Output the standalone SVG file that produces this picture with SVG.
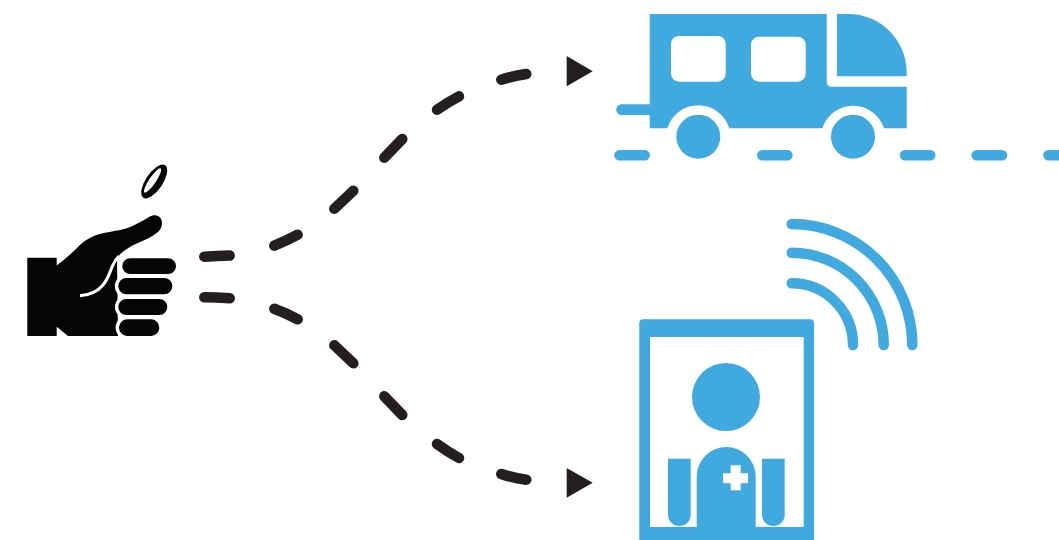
<svg xmlns="http://www.w3.org/2000/svg" width="1059" height="540" viewBox="0 0 1059 540">
<style>
.b{fill:#3fa9e0}
.w{fill:#fff}
.k{fill:#040606}
.f{fill:#040606;stroke:#fff;stroke-width:3.4}
.road{fill:none;stroke:#3fa9e0;stroke-width:10.5;stroke-linecap:round}
.wifi{fill:none;stroke:#3fa9e0;stroke-width:10.5;stroke-linecap:round}
.d{fill:none;stroke:#231f20;stroke-width:10.5;stroke-linecap:round}
.t{fill:#231f20}
</style>
<rect width="1059" height="540" fill="#fff"/>
<g id="hand">
<path class="k" d="M27.3 257.7H56.7V265.5C64 260 72 253 78 247C84 241 90 237 98 234.5C106 232 118 231 126 228.5C134 226 142 221 149 217C153 214.5 158 214.5 160.5 218C163 222 162.500 228 158 232C152 237 146 239.500 139 242.500C131 246 122 251 117 258L118 336H68L56.700 326.700V336H27.300Z"/>
<path d="M80 295.700C90 295 98 291 103 285C108 279 110 272 112 267C114 262 116 259 119 256" fill="none" stroke="#fff" stroke-width="3"/>
<rect class="f" x="120.600" y="256.600" width="57.100" height="19.100" rx="9.500"/>
<rect class="f" x="116.600" y="276.300" width="57.400" height="19.700" rx="9.800"/>
<rect class="f" x="116.600" y="297.300" width="52.400" height="19.400" rx="9.700"/>
<rect class="f" x="117.300" y="317.600" width="43.700" height="20.100" rx="10"/>
<ellipse class="k" cx="154.200" cy="181.500" rx="19.500" ry="8.500" transform="rotate(-56 154.200 181.500)"/>
<ellipse class="w" cx="152.600" cy="180.500" rx="14.500" ry="3.400" transform="rotate(-56 152.600 180.500)"/>
</g>
<g id="connectors">
<path class="d" d="M204.300 256.700Q217 256 229.700 255.600"/>
<path class="d" d="M274.300 245.700Q286 241 297.700 234.700"/>
<path class="d" d="M334.300 208.700L353.300 190.700"/>
<path class="d" d="M384.300 157.700L402.300 139"/>
<path class="d" d="M437 109.700Q448 102 459 96.300"/>
<path class="d" d="M501.300 79.700Q513 76 526.300 74"/>
<polygon class="t" points="566.700,56 592.700,71.300 566.700,86.300"/>
<path class="d" d="M204.300 297.300Q217 297.400 229.700 298.300"/>
<path class="d" d="M274.300 308.700Q286 313 297.700 319.300"/>
<path class="d" d="M334.300 345.300L353.300 363.300"/>
<path class="d" d="M384.300 396.300L402.300 415"/>
<path class="d" d="M437 444Q448 452 459 458"/>
<path class="d" d="M501.300 474Q513 478 526.300 479.700"/>
<polygon class="t" points="566.700,468 592.700,482.700 566.700,497.700"/>
</g>
<g id="bus">
<path class="b" d="M649.700 14H826.700V81.700Q826.700 86.700 831.700 86.700H906.700V128.300H884A32.400 32.400 0 0 0 822.300 128.300H729.300A32.400 32.400 0 0 0 667.300 128.300H649.700Z"/>
<path class="b" d="M837 14H848A58.700 58.700 0 0 1 906.700 71.700V76.300H837Z"/>
<rect class="w" x="671" y="36" width="54.700" height="45.700" rx="8"/>
<rect class="w" x="751" y="36.700" width="54.700" height="45" rx="8"/>
<circle class="b" cx="698.300" cy="136.700" r="22"/>
<circle class="b" cx="853" cy="136.700" r="22"/>
<path class="b" d="M650 104.300H621.600A5.300 5.300 0 0 0 621.600 115H650Z"/>
<path class="road" d="M619.500 155.200H644.700M762.300 155.200H787.400M905 155.200H930.300M976.700 155.200H1002M1048.500 155.200H1070"/>
</g>
<g id="medical">
<path class="b" fill-rule="evenodd" d="M643.300 319.300H810Q814 319.300 814 323.300V540H639.300V323.300Q639.300 319.300 643.300 319.300ZM650 337V527H803.700V337Z"/>
<circle class="b" cx="726" cy="397" r="34"/>
<path class="b" d="M696.700 527V476.500A29.500 29.500 0 0 1 755.700 476.500V527Z"/>
<path class="w" d="M730.700 465.300H740.700V473.300H748V483.300H740.700V490.300H730.700V483.300H723V473.300H730.700Z"/>
<path class="b" d="M668 458.700H690.700V514.700A11.350 11.350 0 0 1 668 514.700Z"/>
<path class="b" d="M762 458.700H784.700V514.700A11.350 11.350 0 0 1 762 514.700Z"/>
<path class="wifi" d="M791.700 224A120.700 121 0 0 1 912.300 345"/>
<path class="wifi" d="M791.700 252.700A92 92.300 0 0 1 883.700 345"/>
<path class="wifi" d="M791.700 283.300A61.300 61.700 0 0 1 853 345"/>
</g>
</svg>
